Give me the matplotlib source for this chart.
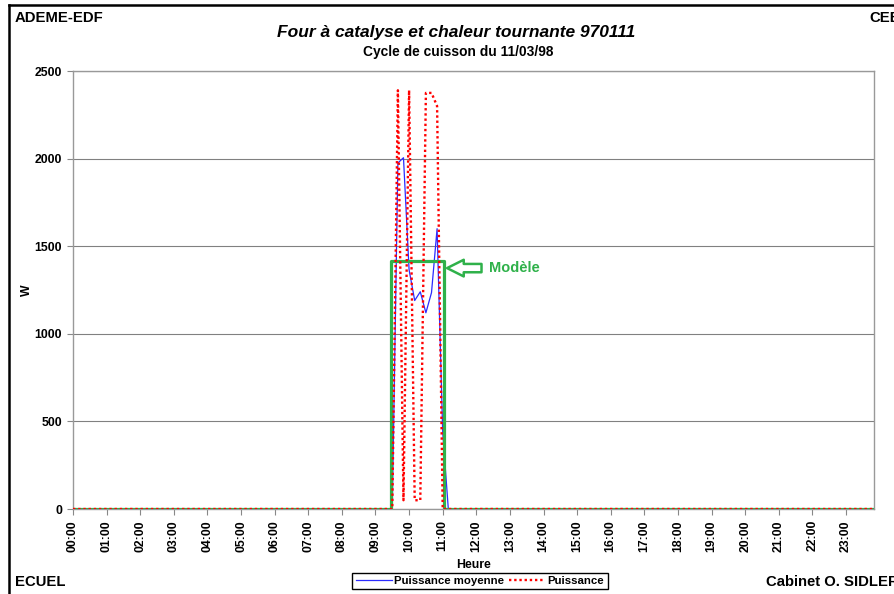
import matplotlib.pyplot as plt
from matplotlib.lines import Line2D

plt.rcParams['font.family'] = ['Liberation Sans', 'DejaVu Sans']
plt.rcParams['font.weight'] = 'bold'

# heures (pas de 10 min) et puissances
t_puissance = [0, 9.5, 9.667, 9.833, 10.0, 10.167, 10.333, 10.5, 10.667, 10.833, 11.0, 23.833]
puissance = [0, 0, 2390, 50, 2390, 50, 50, 2375, 2375, 2300, 0, 0]

t_moyenne = [0, 9.5, 9.667, 9.833, 10.0, 10.167, 10.333, 10.5, 10.667, 10.833, 11.0, 11.167, 23.833]
moyenne = [0, 0, 1975, 2005, 1365, 1190, 1240, 1120, 1235, 1600, 440, 0, 0]

t_modele = [0, 9.47, 9.47, 11.03, 11.03, 23.833]
modele = [0, 0, 1415, 1415, 0, 0]

hour_ticks = list(range(24))
hour_labels = ['%02d:00' % h for h in hour_ticks]
y_ticks = [0, 500, 1000, 1500, 2000, 2500]

green = '#2fb14a'

fig = plt.figure(figsize=(8.94, 5.94), dpi=100)
ax = fig.add_axes([73/894, 1 - 509/594, 801/894, 438/594])

ax.plot(t_moyenne, moyenne, color='#2b2bff', lw=0.9, zorder=3, label='Puissance moyenne')
ax.plot(t_modele, modele, color=green, lw=2.3, zorder=4)
ax.plot(t_puissance, puissance, color='#ff0000', lw=1.7, ls=(0, (1, 1.2)), zorder=5, label='Puissance')

ax.set_xlim(0, 23.833)
ax.set_ylim(0, 2500)
ax.set_yticks(y_ticks)
ax.set_xticks(hour_ticks)
ax.set_xticklabels(hour_labels, rotation=90, fontsize=8.8, fontweight='bold')
ax.tick_params(axis='y', labelsize=8.8, length=4, color='#888888', pad=4)
ax.tick_params(axis='x', length=4, color='#888888', pad=4)
ax.yaxis.grid(True, color='#808080', lw=0.8)
ax.set_axisbelow(True)
for s in ax.spines.values():
    s.set_color('#999999')
    s.set_linewidth(1)

ax.set_xlabel('Heure', fontsize=8.8, fontweight='bold', labelpad=5)
fig.text(27/894, 1 - 290/594, 'W', fontsize=8.8, fontweight='bold', rotation=90,
         ha='center', va='center')

# fleche "Modele"
ax.annotate('', xy=(0.467, 0.55), xytext=(0.51, 0.55), xycoords='axes fraction',
            arrowprops=dict(arrowstyle='simple,head_width=0.6,head_length=0.6,tail_width=0.3',
                            fc='white', ec=green, lw=1.8, mutation_scale=20, shrinkA=0, shrinkB=0))
ax.text(0.519, 0.55, 'Modèle', transform=ax.transAxes, color=green, fontsize=10.5,
        fontweight='bold', va='center', ha='left')

# textes du cadre
fig.text(15/894, 1 - 18/594, 'ADEME-EDF', fontsize=10.7, fontweight='bold', va='center')
fig.text(869/894, 1 - 18/594, 'CEE', fontsize=10.7, fontweight='bold', va='center')
fig.text(456/894, 1 - 33/594, 'Four à catalyse et chaleur tournante 970111', fontsize=12.5,
         fontweight='bold', style='italic', ha='center', va='center')
fig.text(458/894, 1 - 52/594, 'Cycle de cuisson du 11/03/98', fontsize=9.9,
         fontweight='bold', ha='center', va='center')
fig.text(15/894, 1 - 582/594, 'ECUEL', fontsize=10.7, fontweight='bold', va='center')
fig.text(766/894, 1 - 582/594, 'Cabinet O. SIDLER', fontsize=10.7, fontweight='bold', va='center')

fig.add_artist(Line2D([9/894, 9/894], [0, 1 - 5/594], color='black', lw=1.8))
fig.add_artist(Line2D([9/894, 1], [1 - 5/594, 1 - 5/594], color='black', lw=1.8))

fig.legend(loc='center', bbox_to_anchor=(480/894, 1 - 581/594), ncol=2,
           prop=dict(weight='bold', size=8.2), frameon=True, fancybox=False,
           edgecolor='black', handlelength=3.2, handletextpad=0.2, columnspacing=0.4,
           borderpad=0.3, framealpha=1)

fig.savefig('out.png', dpi=100)
